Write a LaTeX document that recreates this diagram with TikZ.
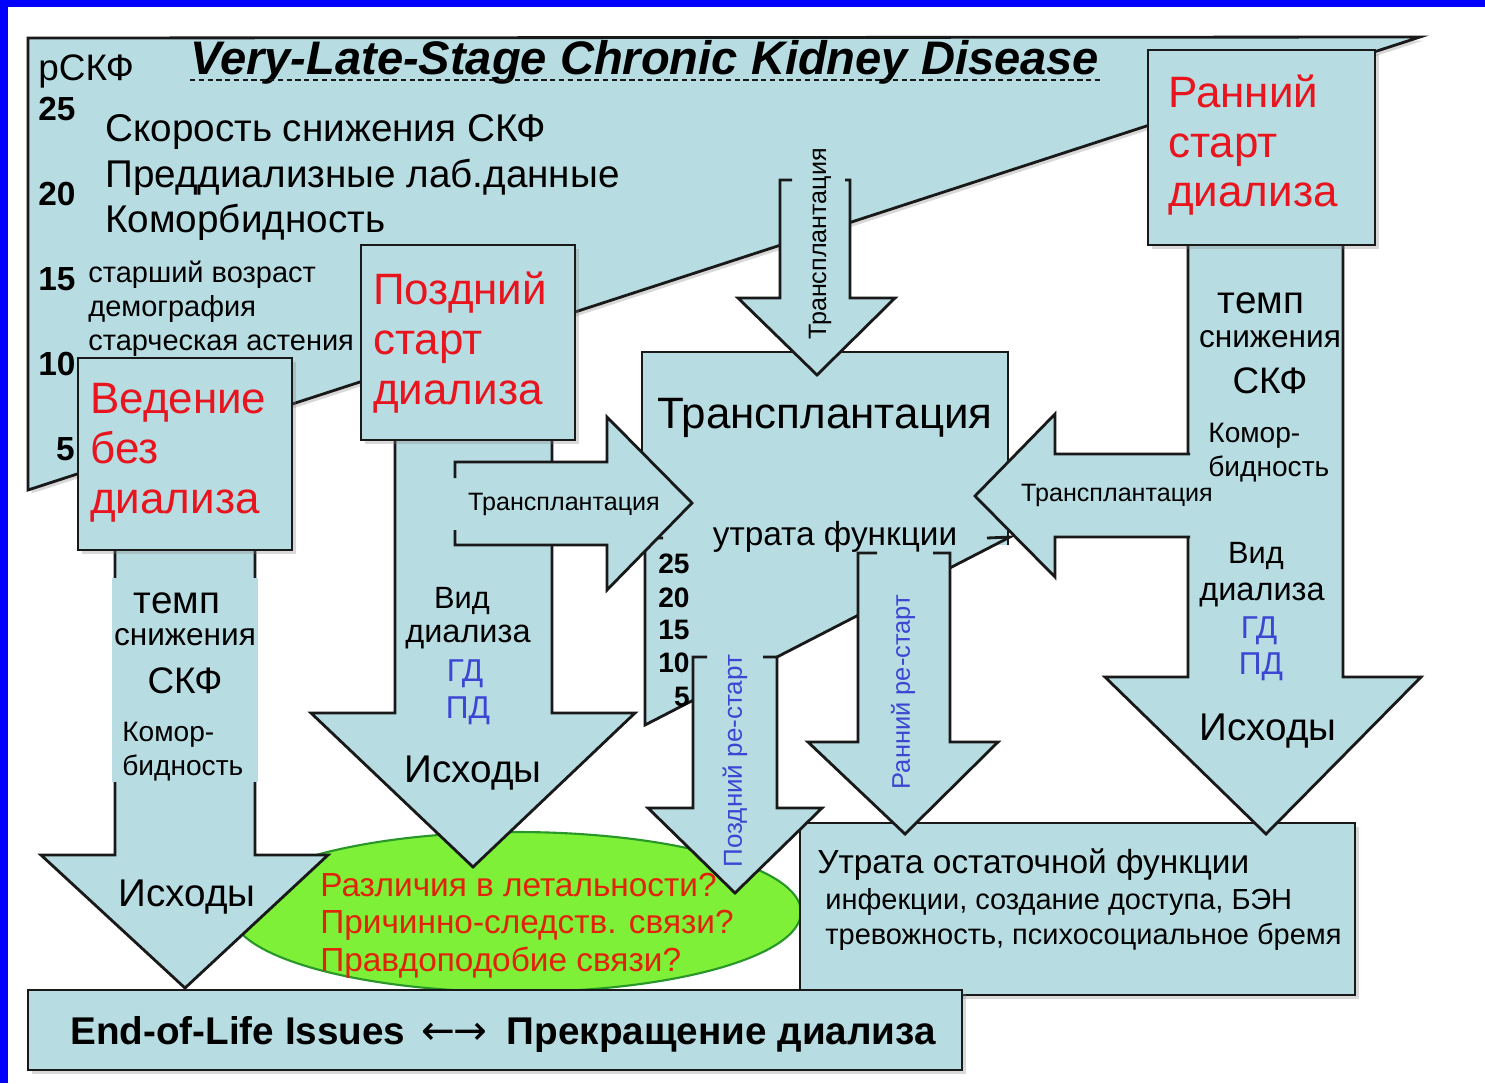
\documentclass[tikz,border=0pt]{standalone}
\usepackage{fontspec}
\setmainfont{Liberation Sans}
\newfontfamily\arrowfont{DejaVu Sans}
\usetikzlibrary{shadows}
\definecolor{boxblue}{RGB}{183,221,226}
\definecolor{edgegray}{RGB}{25,25,25}
\definecolor{redtxt}{RGB}{232,20,30}
\definecolor{ellred}{RGB}{225,35,10}
\definecolor{bluetxt}{RGB}{60,70,210}
\definecolor{ellgreen}{RGB}{125,240,55}
\definecolor{ellborder}{RGB}{40,150,40}
\definecolor{frameblue}{RGB}{0,0,255}
\newcommand{\fs}[1]{\fontsize{#1pt}{#1pt}\selectfont}
\tikzset{
  blk/.style={fill=boxblue, draw=edgegray, line width=1.6pt},
  fillonly/.style={fill=boxblue, draw=none},
  edge/.style={draw=edgegray, line width=1.6pt},
  shd/.style={drop shadow={shadow xshift=2pt, shadow yshift=-2pt, opacity=.3}},
  txt/.style={inner sep=0pt},
}

\begin{document}
\begin{tikzpicture}[x=0.02cm, y=-0.02cm]
\useasboundingbox (0,0) rectangle (1485,1083);
\fill[white] (0,0) rectangle (1485,1083);
\fill[frameblue] (0,0) rectangle (1485,7);
\fill[frameblue] (0,0) rectangle (8,1083);
%
% big wedge
\filldraw[blk,shd] (28,38) -- (1420,37) -- (28,490) -- cycle;
\node[txt,anchor=base west] at (190,74) (ttl) {\fs{26.8}\bfseries\itshape Very-Late-Stage Chronic Kidney Disease};
\draw[edgegray, line width=1pt, dash pattern=on 3pt off 2pt] ([yshift=-3.2pt]ttl.base west) -- ([yshift=-3.2pt]ttl.base east);
\node[txt,anchor=base west] at (38,80) (gfr) {\fs{21}рСКФ};
\foreach \v/\y in {25/120,20/205,15/290,10/375}
  \node[txt,anchor=base west] at (38,\y) (w\v) {\fs{19}\bfseries \v};
\node[txt,anchor=base east] at (75,460) (w5) {\fs{19}\bfseries 5};
\node[txt,anchor=base west] at (105,141) (rate) {\fs{22}Скорость снижения СКФ};
\node[txt,anchor=base west] at (105,187) (lab) {\fs{22}Преддиализные лаб.данные};
\node[txt,anchor=base west] at (105,232) (comorb) {\fs{22}Коморбидность};
\node[txt,anchor=base west] at (88,282) (age) {\fs{16.5}старший возраст};
\node[txt,anchor=base west] at (88,316) (demo) {\fs{16.5}демография};
\node[txt,anchor=base west] at (88,350) (frail) {\fs{16.5}старческая астения};
%
% green ellipse
\filldraw[fill=ellgreen, draw=ellborder, line width=1.2pt] (516,912) ellipse [x radius=285, y radius=80];
\node[txt,anchor=base west,text=ellred] at (320,896) (q1) {\fs{19}Различия в летальности?};
\node[txt,anchor=base west,text=ellred] at (320,933) (q2) {\fs{19}Причинно-следств. связи?};
\node[txt,anchor=base west,text=ellred] at (320,971) (q3) {\fs{19}Правдоподобие связи?};
%
% residual function box
\filldraw[blk,shd] (800,823) rectangle (1355,995);
\node[txt,anchor=base west] at (817,873) (loss) {\fs{19}Утрата остаточной функции};
\node[txt,anchor=base west] at (825,909) (inf) {\fs{16.5}инфекции, создание доступа, БЭН};
\node[txt,anchor=base west] at (825,944) (anx) {\fs{16.5}тревожность, психосоциальное бремя};
%
% end of life box
\filldraw[blk,shd] (28,990) rectangle (962,1070);
\node[txt,anchor=base west] at (70,1044) (eol) {\fs{22}\bfseries End-of-Life Issues\hspace{3pt} {\arrowfont\mdseries\fs{23}←\kern-1pt→}\hspace{5pt} Прекращение диализа};
%
% no dialysis branch
\filldraw[blk] (115,545) -- (115,855) -- (41,855) -- (185,988) -- (328,855) -- (255,855) -- (255,545) -- cycle;
\fill[fillonly] (112,578) rectangle (258,782);
\node[txt,anchor=base] at (177,613) (tempL) {\fs{22}темп};
\node[txt,anchor=base] at (185,645) (downL) {\fs{18}снижения};
\node[txt,anchor=base] at (185,693) (gfrL) {\fs{21}СКФ};
\node[txt,anchor=base west] at (122,741) (kmL) {\fs{16}Комор-};
\node[txt,anchor=base west] at (122,775) (bdL) {\fs{16}бидность};
\node[txt,anchor=base] at (187,906) (outL) {\fs{22}Исходы};
\filldraw[blk,shd] (78,358) rectangle (292,550);
\node[txt,anchor=base west,text=redtxt] at (90,413) (cons1) {\fs{25}Ведение};
\node[txt,anchor=base west,text=redtxt] at (90,463) (cons2) {\fs{25}без};
\node[txt,anchor=base west,text=redtxt] at (90,513) (cons3) {\fs{25}диализа};
%
% late start branch
\filldraw[blk] (395,435) -- (395,713) -- (311,713) -- (473,867) -- (635,713) -- (552,713) -- (552,435) -- cycle;
\node[txt,anchor=base] at (462,608) (kindM) {\fs{17.5}Вид};
\node[txt,anchor=base] at (468,642) (dialM) {\fs{18.5}диализа};
\node[txt,anchor=base,text=bluetxt] at (465,681) (hdM) {\fs{18}ГД};
\node[txt,anchor=base,text=bluetxt] at (468,718) (pdM) {\fs{18}ПД};
\node[txt,anchor=base] at (473,782) (outM) {\fs{22}Исходы};
\filldraw[blk,shd] (361,245) rectangle (575,440);
\node[txt,anchor=base west,text=redtxt] at (373,304) (late1) {\fs{25}Поздний};
\node[txt,anchor=base west,text=redtxt] at (373,354) (late2) {\fs{25}старт};
\node[txt,anchor=base west,text=redtxt] at (373,404) (late3) {\fs{25}диализа};
%
% transplantation box with small wedge
\fill[fillonly] (642,352) rectangle (1008,545);
\draw[edge] (642,545) -- (642,352) -- (1008,352) -- (1008,545);
\fill[fillonly] (645,538) -- (1010,537) -- (645,725) -- cycle;
\draw[edge] (663,538) -- (645,538) -- (645,725) -- (1010,537) -- (987,538);
\node[txt,anchor=base] at (825,428) (tx) {\fs{25}Трансплантация};
\node[txt] at (835,537) (graft) {\fs{19}утрата функции};
\foreach \v/\y in {25/573,20/607,15/639,10/672}
  \node[txt,anchor=base west] at (658,\y) (s\v) {\fs{16}\bfseries \v};
\node[txt,anchor=base east] at (690,706) (s5) {\fs{16}\bfseries 5};
%
% arrow from top
\fill[fillonly] (780,180) -- (780,298) -- (738,298) -- (817,375) -- (895,298) -- (850,298) -- (850,180) -- cycle;
\draw[edge] (792,180) -- (780,180) -- (780,298) -- (738,298) -- (817,375) -- (895,298) -- (850,298) -- (850,180) -- (845,180);
\node[txt,rotate=90] at (820,244) (txTop) {\fs{14.3}Трансплантация};
%
% arrow from late start
\fill[fillonly] (455,462) -- (607,462) -- (607,417) -- (692,503) -- (607,590) -- (607,545) -- (455,545) -- cycle;
\draw[edge] (455,478) -- (455,462) -- (607,462) -- (607,417) -- (692,503) -- (607,590) -- (607,545) -- (455,545) -- (455,530);
\node[txt] at (564,504) (txLeft) {\fs{14.3}Трансплантация};
%
% early start branch
\filldraw[blk] (1188,240) -- (1188,677) -- (1105,677) -- (1266,834) -- (1421,677) -- (1343,677) -- (1343,240) -- cycle;
\node[txt,anchor=base] at (1261,313) (tempR) {\fs{22}темп};
\node[txt,anchor=base] at (1270,347) (downR) {\fs{18}снижения};
\node[txt,anchor=base] at (1270,393) (gfrR) {\fs{21}СКФ};
\node[txt,anchor=base west] at (1208,442) (kmR) {\fs{16}Комор-};
\node[txt,anchor=base west] at (1208,476) (bdR) {\fs{16}бидность};
\node[txt,anchor=base] at (1256,563) (kindR) {\fs{17.5}Вид};
\node[txt,anchor=base] at (1262,600) (dialR) {\fs{18.5}диализа};
\node[txt,anchor=base,text=bluetxt] at (1259,638) (hdR) {\fs{18}ГД};
\node[txt,anchor=base,text=bluetxt] at (1261,674) (pdR) {\fs{18}ПД};
\node[txt,anchor=base] at (1268,740) (outR) {\fs{22}Исходы};
\filldraw[blk,shd] (1148,50) rectangle (1375,245);
\node[txt,anchor=base west,text=redtxt] at (1168,107) (early1) {\fs{25}Ранний};
\node[txt,anchor=base west,text=redtxt] at (1168,157) (early2) {\fs{25}старт};
\node[txt,anchor=base west,text=redtxt] at (1168,206) (early3) {\fs{25}диализа};
\fill[fillonly] (1195,454) -- (1055,454) -- (1055,414) -- (975,496) -- (1055,577) -- (1055,537) -- (1195,537) -- cycle;
\draw[edge] (1190,454) -- (1055,454) -- (1055,414) -- (975,496) -- (1055,577) -- (1055,537) -- (1190,537);
\node[txt] at (1117,495) (txRight) {\fs{14.3}Трансплантация};
%
% restart arrows
\fill[fillonly] (858,553) -- (858,742) -- (808,742) -- (905,834) -- (998,742) -- (950,742) -- (950,553) -- cycle;
\draw[edge] (877,553) -- (858,553) -- (858,742) -- (808,742) -- (905,834) -- (998,742) -- (950,742) -- (950,553) -- (933,553);
\node[txt,rotate=90,text=bluetxt] at (903,692) (reEarly) {\fs{14.5}Ранний ре-старт};
\fill[fillonly] (693,657) -- (693,808) -- (648,808) -- (735,893) -- (822,808) -- (777,808) -- (777,657) -- cycle;
\draw[edge] (707,657) -- (693,657) -- (693,808) -- (648,808) -- (735,893) -- (822,808) -- (777,808) -- (777,657) -- (763,657);
\node[txt,rotate=90,text=bluetxt] at (735,761) (reLate) {\fs{14.8}Поздний ре-старт};
\end{tikzpicture}
\end{document}
